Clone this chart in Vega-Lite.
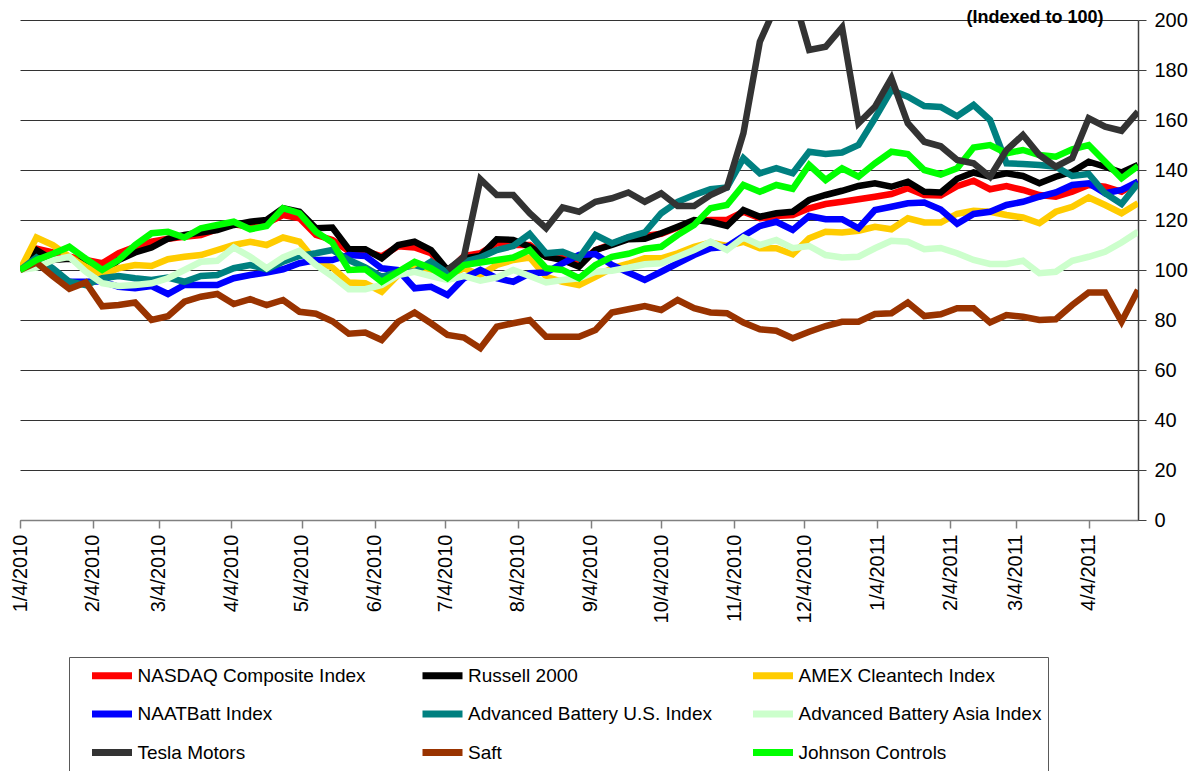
{
  "$schema": "https://vega.github.io/schema/vega-lite/v6.json",
  "width": 1118,
  "height": 500,
  "autosize": {"type": "none"},
  "padding": {"left": 20, "top": 20, "right": 57, "bottom": 251},
  "background": "white",
  "config": {"view": {"stroke": null}, "font": "Liberation Sans"},
  "datasets": {
    "names": [
      {"key": "nasdaq", "name": "NASDAQ Composite Index"},
      {"key": "russell", "name": "Russell 2000"},
      {"key": "amex", "name": "AMEX Cleantech Index"},
      {"key": "naatbatt", "name": "NAATBatt Index"},
      {"key": "abus", "name": "Advanced Battery U.S. Index"},
      {"key": "abasia", "name": "Advanced Battery Asia Index"},
      {"key": "tesla", "name": "Tesla Motors"},
      {"key": "saft", "name": "Saft"},
      {"key": "jci", "name": "Johnson Controls"}
    ]
  },
  "data": {"values": [
    {"date": "2010-01-04", "nasdaq": 100, "russell": 100, "amex": 100, "naatbatt": 100, "abus": 100, "abasia": 100, "saft": 100, "jci": 100},
    {"date": "2010-01-11", "nasdaq": 108.5, "russell": 108, "amex": 113, "naatbatt": 102.7, "abus": 105, "abasia": 101, "saft": 103, "jci": 104},
    {"date": "2010-01-18", "nasdaq": 107, "russell": 104, "amex": 110, "naatbatt": 98.5, "abus": 100.7, "abasia": 104, "saft": 97.5, "jci": 106.5},
    {"date": "2010-01-25", "nasdaq": 105.3, "russell": 104.5, "amex": 105.3, "naatbatt": 95.3, "abus": 95.3, "abasia": 105.3, "saft": 92.5, "jci": 109.3},
    {"date": "2010-02-01", "nasdaq": 104, "russell": 102.5, "amex": 101.3, "naatbatt": 95.3, "abus": 94, "abasia": 99.3, "saft": 95, "jci": 104.5},
    {"date": "2010-02-08", "nasdaq": 102.7, "russell": 98.5, "amex": 98, "naatbatt": 95.5, "abus": 96.7, "abasia": 94.7, "saft": 85.5, "jci": 100},
    {"date": "2010-02-15", "nasdaq": 106.7, "russell": 104, "amex": 100.7, "naatbatt": 93.3, "abus": 97.6, "abasia": 93.6, "saft": 86, "jci": 104},
    {"date": "2010-02-22", "nasdaq": 109.3, "russell": 107, "amex": 102, "naatbatt": 92.7, "abus": 96.7, "abasia": 94, "saft": 87, "jci": 110},
    {"date": "2010-03-01", "nasdaq": 111.3, "russell": 109, "amex": 101.6, "naatbatt": 93.6, "abus": 96, "abasia": 94.7, "saft": 80, "jci": 114.7},
    {"date": "2010-03-08", "nasdaq": 112.5, "russell": 112.5, "amex": 104.3, "naatbatt": 90.4, "abus": 97, "abasia": 96.7, "saft": 81.5, "jci": 115.3},
    {"date": "2010-03-15", "nasdaq": 113.3, "russell": 114, "amex": 105.3, "naatbatt": 94, "abus": 95.3, "abasia": 100, "saft": 87.3, "jci": 113},
    {"date": "2010-03-22", "nasdaq": 114, "russell": 115, "amex": 106, "naatbatt": 94, "abus": 97.6, "abasia": 103.3, "saft": 89.3, "jci": 116.7},
    {"date": "2010-03-29", "nasdaq": 116.3, "russell": 116, "amex": 108, "naatbatt": 94, "abus": 98, "abasia": 103.7, "saft": 90.4, "jci": 118},
    {"date": "2010-04-05", "nasdaq": 118.3, "russell": 118, "amex": 110, "naatbatt": 96.7, "abus": 100.7, "abasia": 109, "saft": 86.4, "jci": 119.3},
    {"date": "2010-04-12", "nasdaq": 117.3, "russell": 119.3, "amex": 111.3, "naatbatt": 98, "abus": 102, "abasia": 105.3, "saft": 88.3, "jci": 116.3},
    {"date": "2010-04-19", "nasdaq": 118.7, "russell": 120, "amex": 110, "naatbatt": 99, "abus": 100.3, "abasia": 100.7, "saft": 86, "jci": 117.6},
    {"date": "2010-04-26", "nasdaq": 122, "russell": 124.7, "amex": 113, "naatbatt": 100.3, "abus": 103.3, "abasia": 105, "saft": 88, "jci": 124.7},
    {"date": "2010-05-03", "nasdaq": 120.7, "russell": 123.3, "amex": 111.3, "naatbatt": 102.7, "abus": 105.6, "abasia": 107.7, "saft": 83.3, "jci": 122.7},
    {"date": "2010-05-10", "nasdaq": 114, "russell": 116.7, "amex": 103.3, "naatbatt": 104, "abus": 106.7, "abasia": 102, "saft": 82.5, "jci": 115.3},
    {"date": "2010-05-17", "nasdaq": 112, "russell": 117, "amex": 101, "naatbatt": 104, "abus": 108, "abasia": 97.5, "saft": 79.5, "jci": 111},
    {"date": "2010-05-24", "nasdaq": 107.5, "russell": 108.3, "amex": 95, "naatbatt": 106, "abus": 104, "abasia": 92.3, "saft": 74.5, "jci": 100},
    {"date": "2010-05-31", "nasdaq": 107.5, "russell": 108.3, "amex": 94.7, "naatbatt": 105.6, "abus": 101, "abasia": 92.3, "saft": 75, "jci": 100.3},
    {"date": "2010-06-07", "nasdaq": 105.5, "russell": 104.7, "amex": 91.3, "naatbatt": 100.7, "abus": 97.3, "abasia": 94, "saft": 72, "jci": 95.3},
    {"date": "2010-06-14", "nasdaq": 109.5, "russell": 110, "amex": 98, "naatbatt": 100, "abus": 99.3, "abasia": 98, "saft": 79.3, "jci": 99.3},
    {"date": "2010-06-21", "nasdaq": 109, "russell": 111.3, "amex": 100.7, "naatbatt": 92.7, "abus": 99.3, "abasia": 99.3, "saft": 83, "jci": 103.3},
    {"date": "2010-06-28", "nasdaq": 106.7, "russell": 108, "amex": 100, "naatbatt": 93.3, "abus": 103.3, "abasia": 97.6, "saft": 78.7, "jci": 100.7},
    {"date": "2010-07-05", "nasdaq": 99, "russell": 100, "amex": 97.6, "naatbatt": 90, "abus": 98.7, "abasia": 96, "tesla": 100, "saft": 74, "jci": 96.7},
    {"date": "2010-07-12", "nasdaq": 105.6, "russell": 104.7, "amex": 100.7, "naatbatt": 96.7, "abus": 103.3, "abasia": 97.6, "tesla": 105.3, "saft": 73, "jci": 102},
    {"date": "2010-07-19", "nasdaq": 106.7, "russell": 105.6, "amex": 98, "naatbatt": 100, "abus": 105, "abasia": 95.7, "tesla": 136.3, "saft": 68.7, "jci": 103},
    {"date": "2010-07-26", "nasdaq": 110.7, "russell": 112.3, "amex": 102, "naatbatt": 96.7, "abus": 108, "abasia": 97, "tesla": 130, "saft": 77.3, "jci": 104},
    {"date": "2010-08-02", "nasdaq": 110, "russell": 112, "amex": 104, "naatbatt": 95.3, "abus": 109.6, "abasia": 100, "tesla": 130, "saft": 78.7, "jci": 105},
    {"date": "2010-08-09", "nasdaq": 110, "russell": 109.3, "amex": 105, "naatbatt": 98.7, "abus": 114.4, "abasia": 97.6, "tesla": 122.7, "saft": 80, "jci": 108},
    {"date": "2010-08-16", "nasdaq": 105.3, "russell": 105.3, "amex": 97.3, "naatbatt": 99, "abus": 106.7, "abasia": 95, "tesla": 116.7, "saft": 73.3, "jci": 100.7},
    {"date": "2010-08-23", "nasdaq": 104.7, "russell": 104, "amex": 95.3, "naatbatt": 102.7, "abus": 107.3, "abasia": 96, "tesla": 125, "saft": 73.3, "jci": 100},
    {"date": "2010-08-30", "nasdaq": 102.7, "russell": 101.3, "amex": 94, "naatbatt": 106, "abus": 104.7, "abasia": 96.7, "tesla": 123.3, "saft": 73.3, "jci": 96.7},
    {"date": "2010-09-06", "nasdaq": 108, "russell": 108, "amex": 97.3, "naatbatt": 106.4, "abus": 114, "abasia": 99.3, "tesla": 127.3, "saft": 76, "jci": 102},
    {"date": "2010-09-13", "nasdaq": 110.4, "russell": 110, "amex": 100.7, "naatbatt": 102, "abus": 110.7, "abasia": 99.7, "tesla": 128.7, "saft": 83, "jci": 105.3},
    {"date": "2010-09-20", "nasdaq": 113, "russell": 112.3, "amex": 102.5, "naatbatt": 99, "abus": 113.2, "abasia": 100.9, "tesla": 131, "saft": 84.3, "jci": 106.5},
    {"date": "2010-09-27", "nasdaq": 113.6, "russell": 112.5, "amex": 104.7, "naatbatt": 96, "abus": 115, "abasia": 102.3, "tesla": 127.3, "saft": 85.6, "jci": 108.5},
    {"date": "2010-10-04", "nasdaq": 114.5, "russell": 114.7, "amex": 104.7, "naatbatt": 99.3, "abus": 122.7, "abasia": 102.7, "tesla": 130.7, "saft": 84, "jci": 109.3},
    {"date": "2010-10-11", "nasdaq": 117, "russell": 117.3, "amex": 106.7, "naatbatt": 102.7, "abus": 127.3, "abasia": 105.3, "tesla": 125.6, "saft": 88, "jci": 114},
    {"date": "2010-10-18", "nasdaq": 119.5, "russell": 120, "amex": 109.3, "naatbatt": 106, "abus": 130, "abasia": 108, "tesla": 125.6, "saft": 84.7, "jci": 118},
    {"date": "2010-10-25", "nasdaq": 120, "russell": 119.3, "amex": 111, "naatbatt": 108.7, "abus": 132.3, "abasia": 111.3, "tesla": 130, "saft": 83, "jci": 124.7},
    {"date": "2010-11-01", "nasdaq": 120, "russell": 117.6, "amex": 109.6, "naatbatt": 109.3, "abus": 133, "abasia": 108, "tesla": 133, "saft": 82.7, "jci": 126},
    {"date": "2010-11-08", "nasdaq": 123.3, "russell": 124, "amex": 111.3, "naatbatt": 113.6, "abus": 144.7, "abasia": 113, "tesla": 154.7, "saft": 79, "jci": 134},
    {"date": "2010-11-15", "nasdaq": 120.7, "russell": 121.3, "amex": 108.7, "naatbatt": 117.6, "abus": 138.7, "abasia": 110, "tesla": 191.3, "saft": 76.3, "jci": 131.3},
    {"date": "2010-11-22", "nasdaq": 121.6, "russell": 122.7, "amex": 108.7, "naatbatt": 119.3, "abus": 140.7, "abasia": 112, "tesla": 206, "saft": 75.7, "jci": 134},
    {"date": "2010-11-29", "nasdaq": 122, "russell": 123.3, "amex": 106.3, "naatbatt": 116, "abus": 138.7, "abasia": 108.7, "tesla": 211, "saft": 72.7, "jci": 132.5},
    {"date": "2010-12-06", "nasdaq": 124.7, "russell": 128, "amex": 112.7, "naatbatt": 121.6, "abus": 147.3, "abasia": 109.6, "tesla": 188, "saft": 75.3, "jci": 142},
    {"date": "2010-12-13", "nasdaq": 126.4, "russell": 130, "amex": 115.3, "naatbatt": 120.3, "abus": 146.4, "abasia": 106, "tesla": 189.3, "saft": 77.6, "jci": 136},
    {"date": "2010-12-20", "nasdaq": 127.3, "russell": 131.7, "amex": 115, "naatbatt": 120.3, "abus": 147, "abasia": 105, "tesla": 197, "saft": 79.3, "jci": 140.7},
    {"date": "2010-12-27", "nasdaq": 128.3, "russell": 133.6, "amex": 115.7, "naatbatt": 116.7, "abus": 150, "abasia": 105.3, "tesla": 158.7, "saft": 79.3, "jci": 137.3},
    {"date": "2011-01-03", "nasdaq": 129.3, "russell": 134.7, "amex": 117.3, "naatbatt": 124, "abus": 160.7, "abasia": 108.7, "tesla": 165.3, "saft": 82.4, "jci": 142.7},
    {"date": "2011-01-10", "nasdaq": 130.4, "russell": 133.3, "amex": 116.3, "naatbatt": 125.3, "abus": 172, "abasia": 111.7, "tesla": 176.7, "saft": 82.7, "jci": 147.3},
    {"date": "2011-01-17", "nasdaq": 132.7, "russell": 135.3, "amex": 120.7, "naatbatt": 126.7, "abus": 169.3, "abasia": 111.3, "tesla": 158.7, "saft": 87, "jci": 146.4},
    {"date": "2011-01-24", "nasdaq": 130, "russell": 131.3, "amex": 119, "naatbatt": 127, "abus": 165.6, "abasia": 108.3, "tesla": 151.3, "saft": 81.6, "jci": 140},
    {"date": "2011-01-31", "nasdaq": 129.8, "russell": 131, "amex": 119, "naatbatt": 124.2, "abus": 165.2, "abasia": 108.8, "tesla": 149.5, "saft": 82.3, "jci": 138.2},
    {"date": "2011-02-07", "nasdaq": 133.5, "russell": 136.5, "amex": 122.5, "naatbatt": 118.5, "abus": 161.5, "abasia": 106.7, "tesla": 144, "saft": 84.7, "jci": 140.7},
    {"date": "2011-02-14", "nasdaq": 135.7, "russell": 139, "amex": 123.7, "naatbatt": 122.4, "abus": 166, "abasia": 104, "tesla": 142.7, "saft": 84.7, "jci": 149},
    {"date": "2011-02-21", "nasdaq": 132.3, "russell": 137.3, "amex": 123.3, "naatbatt": 123.3, "abus": 160, "abasia": 102.4, "tesla": 137.3, "saft": 79, "jci": 150},
    {"date": "2011-02-28", "nasdaq": 133.6, "russell": 138.7, "amex": 122, "naatbatt": 126, "abus": 142.7, "abasia": 102.4, "tesla": 148, "saft": 82, "jci": 146.7},
    {"date": "2011-03-07", "nasdaq": 132, "russell": 137.6, "amex": 121, "naatbatt": 127.3, "abus": 142.4, "abasia": 103.7, "tesla": 154, "saft": 81.3, "jci": 148},
    {"date": "2011-03-14", "nasdaq": 130, "russell": 134.7, "amex": 118.7, "naatbatt": 129.3, "abus": 142, "abasia": 98.7, "tesla": 146, "saft": 80, "jci": 146},
    {"date": "2011-03-21", "nasdaq": 129.3, "russell": 137.3, "amex": 123.3, "naatbatt": 131, "abus": 141.3, "abasia": 99.3, "tesla": 141.3, "saft": 80.3, "jci": 145.3},
    {"date": "2011-03-28", "nasdaq": 131.3, "russell": 139.3, "amex": 125.3, "naatbatt": 134, "abus": 137.6, "abasia": 103.7, "tesla": 144.7, "saft": 86, "jci": 148.3},
    {"date": "2011-04-04", "nasdaq": 134, "russell": 143.3, "amex": 129, "naatbatt": 134.7, "abus": 138.4, "abasia": 105.3, "tesla": 160.7, "saft": 91, "jci": 150},
    {"date": "2011-04-11", "nasdaq": 133.3, "russell": 141.3, "amex": 126, "naatbatt": 130.7, "abus": 130.7, "abasia": 107.3, "tesla": 157.3, "saft": 91, "jci": 143.3},
    {"date": "2011-04-18", "nasdaq": 131.3, "russell": 139, "amex": 122.7, "naatbatt": 132, "abus": 126.4, "abasia": 111, "tesla": 155.7, "saft": 79.3, "jci": 136.7},
    {"date": "2011-04-25", "nasdaq": 135.3, "russell": 142, "amex": 126.7, "naatbatt": 135.3, "abus": 134.7, "abasia": 115.3, "tesla": 163.3, "saft": 92, "jci": 141.6}
  ]},
  "transform": [
    {"fold": ["nasdaq", "russell", "amex", "naatbatt", "abus", "abasia", "tesla", "saft", "jci"], "as": ["key", "value"]},
    {"filter": "isValid(datum.value)"},
    {"lookup": "key", "from": {"data": {"name": "names"}, "key": "key", "fields": ["name"]}}
  ],
  "mark": {"type": "line", "strokeWidth": 6.5, "clip": true},
  "encoding": {
    "x": {
      "field": "date",
      "type": "temporal",
      "scale": {"type": "utc", "nice": false, "domain": [{"year": 2010, "month": 1, "date": 4, "utc": true}, {"year": 2011, "month": 4, "date": 25, "utc": true}]},
      "axis": {
        "title": null,
        "grid": false,
        "format": "%-m/%-d/%Y",
        "values": [
          {"year": 2010, "month": 1, "date": 4, "utc": true},
          {"year": 2010, "month": 2, "date": 4, "utc": true},
          {"year": 2010, "month": 3, "date": 4, "utc": true},
          {"year": 2010, "month": 4, "date": 4, "utc": true},
          {"year": 2010, "month": 5, "date": 4, "utc": true},
          {"year": 2010, "month": 6, "date": 4, "utc": true},
          {"year": 2010, "month": 7, "date": 4, "utc": true},
          {"year": 2010, "month": 8, "date": 4, "utc": true},
          {"year": 2010, "month": 9, "date": 4, "utc": true},
          {"year": 2010, "month": 10, "date": 4, "utc": true},
          {"year": 2010, "month": 11, "date": 4, "utc": true},
          {"year": 2010, "month": 12, "date": 4, "utc": true},
          {"year": 2011, "month": 1, "date": 4, "utc": true},
          {"year": 2011, "month": 2, "date": 4, "utc": true},
          {"year": 2011, "month": 3, "date": 4, "utc": true},
          {"year": 2011, "month": 4, "date": 4, "utc": true}
        ],
        "labelAngle": -90,
        "labelFontSize": 20,
        "labelColor": "#000000",
        "labelPadding": 6,
        "labelFlush": false,
        "labelOverlap": false,
        "domainColor": "#808080",
        "domainWidth": 1.5,
        "tickColor": "#808080",
        "tickWidth": 1.5,
        "tickSize": 8
      }
    },
    "y": {
      "field": "value",
      "type": "quantitative",
      "scale": {"domain": [0, 200], "nice": false},
      "axis": {
        "orient": "right",
        "values": [0, 20, 40, 60, 80, 100, 120, 140, 160, 180, 200],
        "grid": true,
        "gridColor": "#333333",
        "gridWidth": 1,
        "domainColor": "#404040",
        "domainWidth": 1.5,
        "tickColor": "#404040",
        "tickSize": 8,
        "labelFontSize": 20,
        "labelColor": "#000000",
        "labelPadding": 8,
        "labelFlush": false,
        "title": "(Indexed to 100)",
        "titleAngle": 0,
        "titleX": -35,
        "titleY": 2,
        "titleAlign": "right",
        "titleBaseline": "alphabetic",
        "titleFontSize": 18,
        "titleFontWeight": "bold",
        "titleColor": "#000000"
      }
    },
    "color": {
      "field": "name",
      "type": "nominal",
      "scale": {
        "domain": ["NASDAQ Composite Index", "Russell 2000", "AMEX Cleantech Index", "NAATBatt Index", "Advanced Battery U.S. Index", "Advanced Battery Asia Index", "Tesla Motors", "Saft", "Johnson Controls"],
        "range": ["#FF0000", "#000000", "#FFCC00", "#0000FF", "#008080", "#CCFFCC", "#333333", "#993300", "#00FF00"]
      },
      "legend": {
        "title": null,
        "orient": "none",
        "direction": "horizontal",
        "legendX": 49,
        "legendY": 637,
        "columns": 3,
        "gridAlign": "all",
        "symbolType": "M0.45,0H4.45",
        "symbolSize": 400,
        "symbolStrokeWidth": 7,
        "labelFontSize": 19,
        "labelColor": "#000000",
        "labelLimit": 400,
        "labelOffset": 36.5,
        "columnPadding": 22.5,
        "rowPadding": 9.5,
        "padding": 5,
        "strokeColor": "#595959",
        "fillColor": "#FFFFFF"
      }
    }
  }
}
